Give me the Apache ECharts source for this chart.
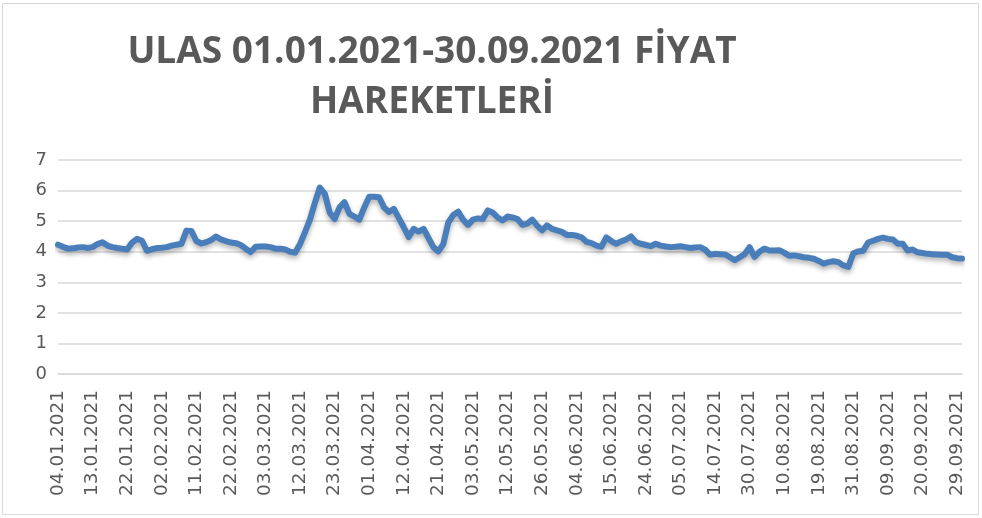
<!DOCTYPE html>
<html>
<head>
<meta charset="utf-8">
<script src="https://cdn.jsdelivr.net/npm/echarts@6/dist/echarts.min.js"></script>
<style>html,body{margin:0;padding:0;background:#fff;}#c{width:982px;height:518px;}</style>
</head>
<body>
<div id="c"></div>
<script>
// Trading calendar (BIST) 04.01.2021 - 30.09.2021
const startDate = '2021-01-04';
const endDate = '2021-09-30';
const holidays = ['2021-04-23','2021-05-13','2021-05-14','2021-05-19','2021-07-15','2021-07-20','2021-07-21','2021-07-22','2021-07-23','2021-08-30'];

// Closing prices
const prices = [
  4.23,4.16,4.10,4.11,4.14,4.15,4.12,4.15,4.25,4.31,
  4.20,4.15,4.12,4.10,4.07,4.30,4.42,4.36,4.03,4.08,
  4.12,4.13,4.15,4.20,4.23,4.26,4.69,4.68,4.35,4.27,
  4.31,4.38,4.50,4.40,4.35,4.30,4.28,4.22,4.10,3.99,
  4.16,4.17,4.17,4.15,4.10,4.10,4.07,4.00,3.97,4.25,
  4.64,5.05,5.60,6.10,5.90,5.28,5.07,5.45,5.62,5.24,
  5.15,5.05,5.45,5.80,5.80,5.78,5.45,5.30,5.40,5.10,
  4.80,4.48,4.75,4.66,4.75,4.45,4.15,4.01,4.25,4.95,
  5.20,5.31,5.05,4.88,5.05,5.09,5.07,5.35,5.28,5.12,
  5.02,5.15,5.12,5.07,4.88,4.92,5.05,4.85,4.70,4.86,
  4.75,4.70,4.65,4.55,4.55,4.52,4.47,4.32,4.28,4.20,
  4.16,4.47,4.35,4.26,4.34,4.40,4.50,4.31,4.26,4.22,
  4.18,4.26,4.20,4.17,4.15,4.16,4.18,4.15,4.12,4.14,
  4.15,4.07,3.90,3.93,3.92,3.91,3.82,3.72,3.82,3.92,
  4.15,3.83,4.00,4.10,4.04,4.04,4.05,3.97,3.87,3.88,
  3.85,3.82,3.80,3.77,3.70,3.61,3.66,3.69,3.66,3.55,
  3.50,3.95,4.01,4.03,4.30,4.36,4.42,4.46,4.42,4.40,
  4.26,4.26,4.04,4.07,3.98,3.96,3.93,3.92,3.91,3.90,
  3.90,3.82,3.79,3.78
];

const yTicks = [0,1,2,3,4,5,6,7];
const titleText = 'ULAS 01.01.2021-30.09.2021 FİYAT\nHAREKETLERİ';

function buildDates(){
  const out = [];
  const d = new Date(startDate + 'T12:00:00Z');
  const end = new Date(endDate + 'T12:00:00Z');
  while (d <= end) {
    const iso = d.toISOString().slice(0,10);
    const wd = d.getUTCDay();
    if (wd !== 0 && wd !== 6 && holidays.indexOf(iso) < 0) {
      out.push(iso.slice(8,10) + '.' + iso.slice(5,7) + '.' + iso.slice(0,4));
    }
    d.setUTCDate(d.getUTCDate() + 1);
  }
  return out;
}
const dates = buildDates();

const chart = echarts.init(document.getElementById('c'), null, {renderer:'canvas'});
chart.setOption({
  backgroundColor: '#ffffff',
  animation: false,
  graphic: [{
    type: 'rect',
    shape: {x: 2.5, y: 3.5, width: 976, height: 511},
    style: {fill: 'none', stroke: '#d9d9d9', lineWidth: 1}
  }],
  title: {
    text: titleText,
    left: 427,
    top: 22,
    textAlign: 'center',
    textStyle: {
      fontFamily: 'Open Sans',
      fontWeight: 'bold',
      fontSize: 37,
      lineHeight: 50,
      color: '#595959'
    }
  },
  grid: {left: 58, right: 20, top: 160, bottom: 144, containLabel: false},
  xAxis: {
    type: 'category',
    data: dates,
    boundaryGap: false,
    axisLine: {show: true, lineStyle: {color: '#d9d9d9', width: 1.5}},
    axisTick: {show: false},
    splitLine: {show: false},
    axisLabel: {
      interval: 6,
      rotate: 90,
      margin: 16,
      color: '#595959',
      fontFamily: 'DejaVu Sans',
      fontSize: 18.5
    }
  },
  yAxis: {
    type: 'value',
    min: yTicks[0],
    max: yTicks[yTicks.length-1],
    interval: 1,
    axisLine: {show: false},
    axisTick: {show: false},
    splitLine: {show: true, lineStyle: {color: '#d9d9d9', width: 1.5}},
    axisLabel: {
      margin: 11,
      color: '#595959',
      fontFamily: 'DejaVu Sans',
      fontSize: 18
    }
  },
  series: [{
    type: 'line',
    data: prices,
    symbol: 'none',
    smooth: false,
    lineStyle: {
      color: '#4a7ebb',
      width: 6,
      cap: 'round',
      join: 'round',
      shadowColor: 'rgba(0,0,0,0.3)',
      shadowBlur: 5,
      shadowOffsetY: 3
    }
  }]
});
</script>
</body>
</html>
